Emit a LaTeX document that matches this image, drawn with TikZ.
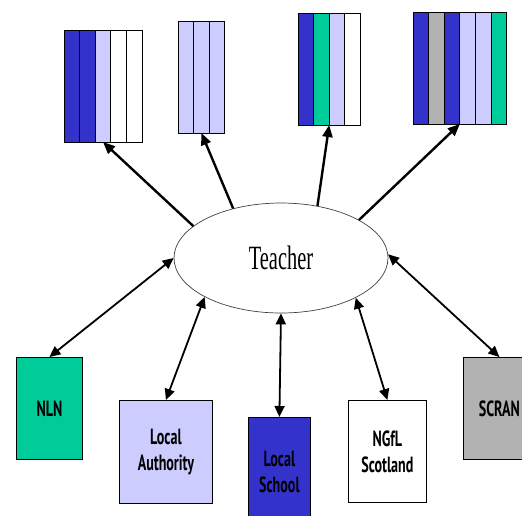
\documentclass[tikz,border=0pt]{standalone}
\usepackage{fontspec}
\usetikzlibrary{shapes.geometric,arrows.meta}
\newfontfamily\labelfont[FakeStretch=0.64]{PT Sans}
\newfontfamily\teacherfont[FakeStretch=0.6]{Liberation Serif}
\definecolor{deepblue}{HTML}{3333CC}
\definecolor{paleblue}{HTML}{CCCCFF}
\definecolor{jade}{HTML}{00CC99}
\definecolor{midgrey}{HTML}{B2B2B2}
\newcommand\stripebox[5]{%
  \foreach \col [count=\i from 0] in {#5}
    \filldraw[bar, fill=\col] (#2+\i*15.6,#3) rectangle ++(15.6,112);
  \node[minimum width=#4*15.6pt, minimum height=112pt, inner sep=0pt,
    outer sep=0pt, anchor=north west] (#1) at (#2,#3) {};
}
\begin{document}
\begin{tikzpicture}[x=1pt,y=-1pt,
    bar/.style={draw=black, line width=0.8pt},
    source/.style={draw=black, line width=0.8pt, inner sep=0pt, anchor=north west,
      align=center, font=\labelfont\bfseries\fontsize{22}{26}\selectfont},
    feed/.style={-{Triangle[length=12pt,width=10pt]}, line width=2.4pt},
    link/.style={{Triangle[length=11pt,width=10pt]}-{Triangle[length=11pt,width=10pt]},
      line width=1.8pt}]
  \useasboundingbox (0,0) rectangle (522,515);
  \clip (0,0) rectangle (522,515);
  \stripebox{res1}{64}{30}{5}{deepblue,deepblue,paleblue,white,white}
  \stripebox{res2}{178}{21}{3}{paleblue,paleblue,paleblue}
  \stripebox{res3}{298}{13}{4}{deepblue,jade,paleblue,white}
  \stripebox{res4}{413}{12}{6}{deepblue,midgrey,deepblue,paleblue,paleblue,jade}
  \node[ellipse, draw=black!75, line width=0.7pt, minimum width=214pt, minimum height=110pt,
    font=\teacherfont\fontsize{34}{34}\selectfont] (teacher) at (281,258) {Teacher};
  \node[source, fill=jade, minimum width=66pt, minimum height=102pt] (nln) at (16,357) {NLN};
  \node[source, fill=paleblue, minimum width=93pt, minimum height=103pt] (authority) at (119,400) {Local\\Authority};
  \node[source, fill=deepblue, minimum width=62pt, minimum height=110pt] (school) at (248,417) {Local\\School};
  \node[source, fill=white, minimum width=78pt, minimum height=102pt] (ngfl) at (348,400) {NGfL\\Scotland};
  \node[source, fill=midgrey, minimum width=72pt, minimum height=102pt] (scran) at (463,357) {SCRAN};
  \draw[feed] (teacher.160) -- (res1.south);
  \draw[feed] (teacher.134) -- (res2.south);
  \draw[feed] (teacher.55) -- (res3.south);
  \draw[feed] (teacher.26) -- (res4.south);
  \draw[link] (teacher.180) -- (nln.north);
  \draw[link] (teacher.207) -- (authority.north);
  \draw[link] (teacher.270) -- (school.north);
  \draw[link] (teacher.332) -- (ngfl.north);
  \draw[link] (teacher.2) -- (scran.north);
\end{tikzpicture}
\end{document}
